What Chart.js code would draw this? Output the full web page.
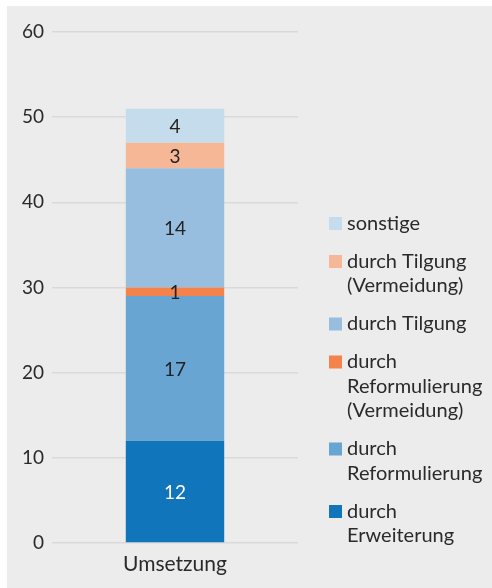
<!DOCTYPE html>
<html>
<head>
<meta charset="utf-8">
<script src="https://cdn.jsdelivr.net/npm/chart.js@4/dist/chart.umd.min.js"></script>
<style>
html,body{margin:0;padding:0;background:#fff;}
#wrap{position:relative;width:492px;height:588px;}
</style>
</head>
<body>
<div id="wrap"><canvas id="c" width="492" height="588"></canvas></div>
<script>
const categories = ['Umsetzung'];
const yTicks = [0, 10, 20, 30, 40, 50, 60];
const erweiterung = [12];
const reformulierung = [17];
const reformulierungVermeidung = [1];
const tilgung = [14];
const tilgungVermeidung = [3];
const sonstige = [4];
const seriesNames = [
  ['durch', 'Erweiterung'],
  ['durch', 'Reformulierung'],
  ['durch', 'Reformulierung', '(Vermeidung)'],
  ['durch Tilgung'],
  ['durch Tilgung', '(Vermeidung)'],
  ['sonstige']
];
const seriesValues = [erweiterung, reformulierung, reformulierungVermeidung, tilgung, tilgungVermeidung, sonstige];
const seriesColors = ['#1175bc', '#68a5d2', '#f4834b', '#97bedf', '#f5b795', '#c5dcec'];
const labelColors = ['#ffffff', '#222222', '#222222', '#222222', '#222222', '#222222'];

const FONT = 'Lato, "Open Sans", sans-serif';

const bgPlugin = {
  id: 'bg',
  beforeDraw(chart) {
    const ctx = chart.ctx;
    ctx.save();
    ctx.fillStyle = '#ffffff';
    ctx.fillRect(0, 0, chart.width, chart.height);
    ctx.fillStyle = '#ececec';
    ctx.fillRect(7, 6, chart.width - 7, chart.height - 6);
    ctx.restore();
  }
};

const valuePlugin = {
  id: 'values',
  afterDatasetsDraw(chart) {
    const ctx = chart.ctx;
    ctx.save();
    ctx.font = '19px ' + FONT;
    ctx.textAlign = 'center';
    ctx.textBaseline = 'middle';
    chart.data.datasets.forEach((ds, i) => {
      const meta = chart.getDatasetMeta(i);
      meta.data.forEach((bar, j) => {
        const v = ds.data[j];
        const yc = (bar.y + bar.base) / 2;
        ctx.fillStyle = labelColors[i];
        ctx.fillText(String(v), bar.x, yc + 1);
      });
    });
    ctx.restore();
  }
};

const legendPlugin = {
  id: 'customLegend',
  afterDraw(chart) {
    const ctx = chart.ctx;
    ctx.save();
    ctx.font = '20px ' + FONT;
    ctx.textBaseline = 'middle';
    ctx.textAlign = 'left';
    const lineH = 24.5;
    const gap = 13.5;
    let y = 223.5;
    for (let k = seriesNames.length - 1; k >= 0; k--) {
      const lines = seriesNames[k];
      ctx.fillStyle = seriesColors[k];
      ctx.fillRect(329, y - 6.5, 13, 13);
      ctx.fillStyle = '#2a2a2a';
      lines.forEach((t, li) => ctx.fillText(t, 347, y + li * lineH));
      y += lines.length * lineH + gap;
    }
    ctx.restore();
  }
};

new Chart(document.getElementById('c'), {
  type: 'bar',
  data: {
    labels: categories,
    datasets: seriesValues.map((vals, i) => ({
      label: seriesNames[i].join(' '),
      data: vals,
      backgroundColor: seriesColors[i],
      borderWidth: 0,
      barPercentage: 0.4,
      categoryPercentage: 1.0
    }))
  },
  options: {
    responsive: false,
    animation: false,
    devicePixelRatio: 1,
    layout: { padding: { left: 0, right: 194, top: 32, bottom: 0 } },
    plugins: { legend: { display: false }, tooltip: { enabled: false } },
    scales: {
      x: {
        stacked: true,
        grid: { display: false, drawTicks: false },
        border: { display: false },
        ticks: { color: '#2a2a2a', font: { family: FONT, size: 21 }, padding: 9 },
        afterFit(s) { s.height = 45; }
      },
      y: {
        stacked: true,
        min: 0,
        max: 60,
        afterBuildTicks(s) { s.ticks = yTicks.map(v => ({ value: v })); },
        grid: { color: '#d9d9d9', lineWidth: 1.5, drawTicks: false },
        border: { display: false },
        ticks: { color: '#2a2a2a', font: { family: FONT, size: 19 }, padding: 8 },
        afterFit(s) { s.width = 52; }
      }
    }
  },
  plugins: [bgPlugin, valuePlugin, legendPlugin]
});
</script>
</body>
</html>
